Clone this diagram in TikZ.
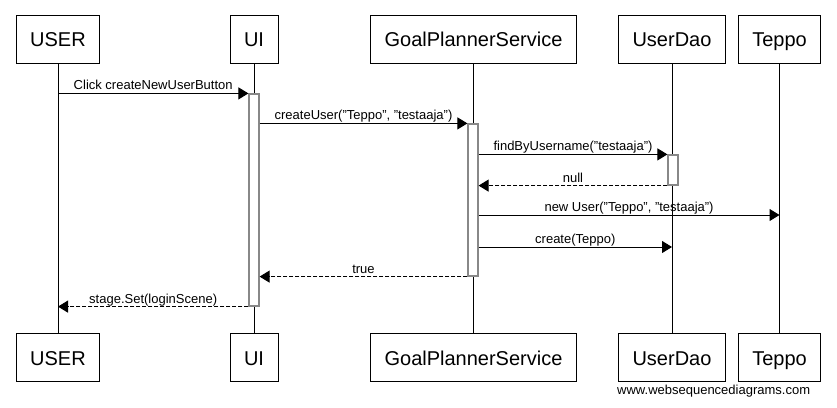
\documentclass[tikz,border=0pt]{standalone}
\usepackage{fontspec}
\setmainfont{Liberation Sans}
\usetikzlibrary{arrows.meta}
\definecolor{actgray}{RGB}{136,136,136}
\tikzset{
  actor/.style={draw,line width=1pt,minimum height=48pt,inner xsep=14pt,
    text height=15pt,text depth=0pt,font=\fontsize{20}{24}\selectfont},
  lifeline/.style={line width=1pt},
  activation/.style={draw=actgray,fill=white,line width=1.2pt,inner sep=0pt,minimum width=10pt},
  msg/.style={line width=1pt,-{Triangle[length=10pt,width=12pt]}},
  reply/.style={msg,dash pattern=on 4pt off 2pt},
  msglabel/.style={midway,anchor=base,yshift=3.5pt,inner sep=0pt,
    font=\fontsize{13}{15}\selectfont}
}
\begin{document}
\begin{tikzpicture}[x=1pt,y=-1pt]
\useasboundingbox (0,0) rectangle (837,407);
% participants
\node[actor] (userTop) at (58,39) {USER};
\node[actor] (uiTop) at (254,39) {UI};
\node[actor] (gpsTop) at (473.5,39) {GoalPlannerService};
\node[actor] (daoTop) at (672,39) {UserDao};
\node[actor] (teppoTop) at (779.5,39) {Teppo};
\node[actor] (userBot) at (58,357.5) {USER};
\node[actor] (uiBot) at (254,357.5) {UI};
\node[actor] (gpsBot) at (473.5,357.5) {GoalPlannerService};
\node[actor] (daoBot) at (672,357.5) {UserDao};
\node[actor] (teppoBot) at (779.5,357.5) {Teppo};
\foreach \p in {user,ui,gps,dao,teppo}
  \draw[lifeline] (\p Top) -- (\p Bot);
% activations
\node[activation,minimum height=212pt] (uiAct) at (254,200) {};
\node[activation,minimum height=152pt] (gpsAct) at (473,200) {};
\node[activation,minimum height=30pt] (daoAct) at (673,170) {};
\coordinate (newY) at (0,215);
\coordinate (createY) at (0,247);
% messages
\draw[msg] (userTop |- uiAct.north) -- node[msglabel] {Click createNewUserButton} (uiAct.north west);
\draw[msg] (uiAct.east |- gpsAct.north) -- node[msglabel] {createUser("Teppo", "testaaja")} (gpsAct.north west);
\draw[msg] (gpsAct.east |- daoAct.north) -- node[msglabel] {findByUsername("testaaja")} (daoAct.north west);
\draw[reply] (daoAct.south west) -- node[msglabel] {null} (gpsAct.east |- daoAct.south);
\draw[msg] (gpsAct.east |- newY) -- node[msglabel] {new User("Teppo", "testaaja")} (teppoTop |- newY);
\draw[msg] (gpsAct.east |- createY) -- node[msglabel] {create(Teppo)} (daoTop |- createY);
\draw[reply] (gpsAct.south west) -- node[msglabel] {true} (uiAct.east |- gpsAct.south);
\draw[reply] (uiAct.south west) -- node[msglabel] {stage.Set(loginScene)} (userTop |- uiAct.south);
\node[anchor=base west,inner sep=0pt,font=\fontsize{13}{15}\selectfont] (credit) at (617,394) {www.websequencediagrams.com};
\end{tikzpicture}
\end{document}
